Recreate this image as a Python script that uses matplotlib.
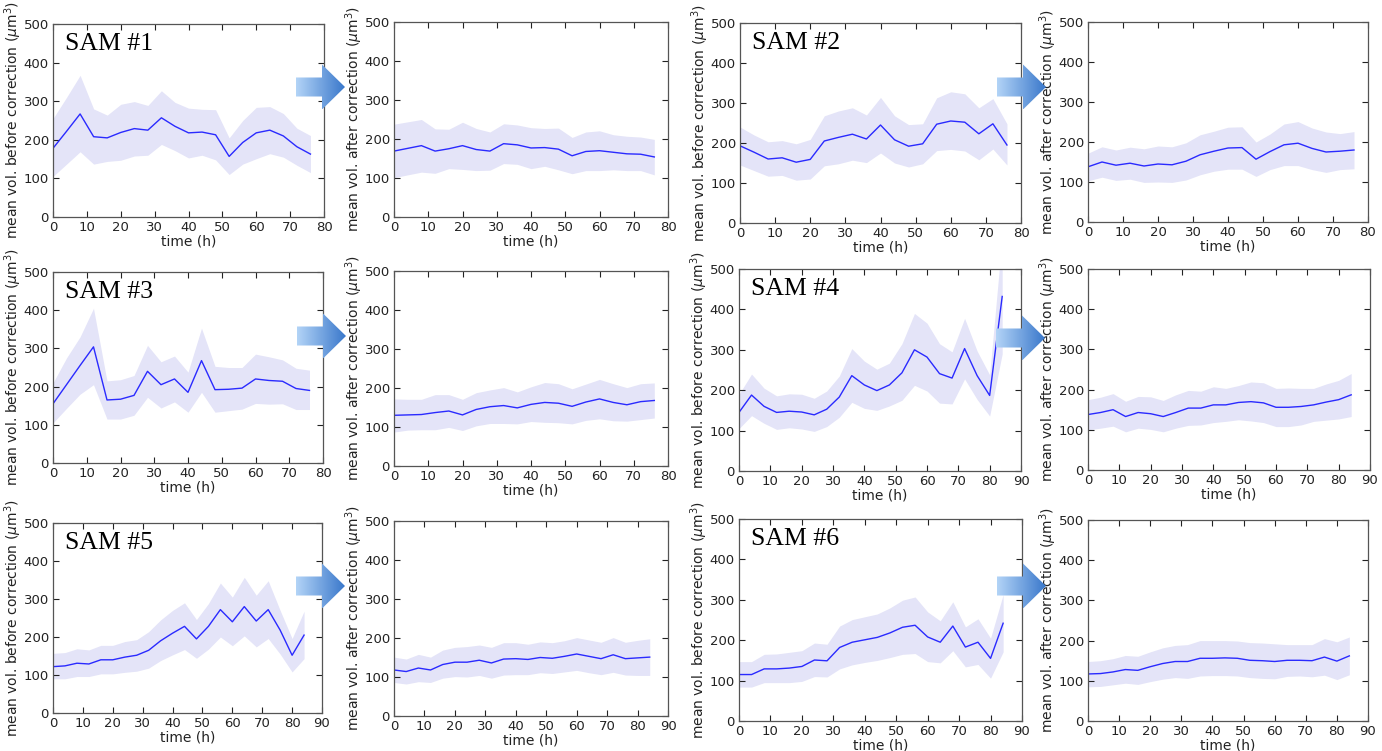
import numpy as np
import matplotlib
matplotlib.use("Agg")
from matplotlib import pyplot as plt
from matplotlib.patches import Polygon

# time points (h), sampled every 4 h
t76 = np.arange(0, 77, 4)
t84 = np.arange(0, 85, 4)

# SAM #1
sam1_bef_mean = [178, 222, 267, 208, 205, 219, 229, 225, 257, 235, 218, 220, 213, 157, 193, 218, 225, 210, 182, 163]
sam1_bef_hi = [255, 310, 367, 280, 264, 292, 299, 289, 327, 297, 282, 279, 278, 205, 250, 284, 286, 268, 230, 211]
sam1_bef_lo = [105, 137, 169, 137, 144, 147, 158, 160, 188, 172, 153, 160, 148, 110, 137, 151, 164, 155, 134, 115]
sam1_aft_mean = [169, 176, 183, 169, 175, 183, 173, 169, 188, 185, 177, 178, 174, 157, 168, 170, 166, 162, 161, 154]
sam1_aft_hi = [238, 244, 250, 226, 225, 243, 227, 218, 239, 236, 229, 227, 228, 204, 218, 221, 211, 207, 205, 199]
sam1_aft_lo = [101, 108, 115, 112, 124, 122, 119, 120, 137, 135, 124, 130, 121, 111, 119, 119, 121, 119, 119, 108]

# SAM #2
sam2_bef_mean = [193, 177, 160, 163, 152, 159, 205, 214, 222, 210, 245, 208, 192, 198, 247, 255, 252, 223, 248, 195]
sam2_bef_hi = [240, 220, 203, 206, 198, 209, 268, 280, 288, 270, 314, 268, 246, 248, 313, 328, 323, 288, 311, 248]
sam2_bef_lo = [145, 131, 117, 119, 107, 110, 143, 148, 157, 151, 175, 150, 140, 148, 181, 184, 180, 158, 185, 145]
sam2_aft_mean = [138, 150, 142, 147, 140, 145, 143, 152, 168, 177, 185, 186, 157, 176, 193, 197, 184, 175, 177, 180]
sam2_aft_hi = [172, 188, 180, 187, 183, 190, 188, 198, 218, 227, 237, 238, 200, 220, 245, 251, 235, 225, 221, 226]
sam2_aft_lo = [103, 112, 104, 107, 99, 100, 99, 105, 118, 127, 132, 132, 114, 131, 141, 141, 131, 124, 131, 133]

# SAM #3
sam3_bef_mean = [155, 205, 255, 304, 165, 167, 177, 240, 205, 220, 185, 268, 192, 193, 196, 220, 216, 214, 195, 190]
sam3_bef_hi = [210, 275, 330, 405, 215, 218, 229, 308, 265, 280, 238, 353, 253, 250, 250, 285, 278, 270, 248, 243]
sam3_bef_lo = [105, 143, 180, 205, 115, 115, 125, 172, 144, 160, 133, 185, 133, 137, 141, 156, 154, 155, 140, 140]
sam3_aft_mean = [130, 131, 132, 137, 141, 131, 145, 152, 155, 149, 158, 163, 161, 153, 164, 172, 163, 157, 165, 168]
sam3_aft_hi = [172, 171, 171, 183, 183, 171, 188, 195, 201, 190, 203, 214, 211, 198, 210, 222, 211, 201, 211, 213]
sam3_aft_lo = [87, 92, 93, 93, 99, 91, 103, 109, 109, 108, 114, 112, 111, 108, 117, 121, 116, 115, 119, 123]

# SAM #4
sam4_bef_mean = [145, 188, 160, 145, 148, 146, 139, 153, 183, 236, 213, 199, 213, 243, 300, 282, 241, 230, 303, 236, 187, 432]
sam4_bef_hi = [190, 240, 205, 186, 191, 190, 180, 198, 235, 303, 272, 252, 267, 315, 390, 366, 315, 295, 378, 297, 238, 580]
sam4_bef_lo = [105, 137, 118, 103, 107, 104, 98, 110, 133, 170, 155, 150, 161, 175, 212, 198, 168, 166, 228, 177, 136, 290]
sam4_aft_mean = [138, 143, 150, 133, 143, 140, 133, 143, 154, 154, 162, 162, 168, 170, 167, 156, 156, 158, 162, 169, 175, 187]
sam4_aft_hi = [175, 181, 190, 171, 183, 182, 173, 187, 198, 196, 207, 203, 210, 219, 217, 203, 204, 203, 203, 214, 223, 240]
sam4_aft_lo = [100, 104, 109, 95, 104, 101, 95, 104, 111, 112, 118, 121, 125, 122, 118, 108, 108, 112, 121, 124, 127, 133]

# SAM #5
sam5_bef_mean = [122, 124, 131, 129, 140, 140, 147, 152, 165, 190, 210, 228, 195, 228, 272, 240, 280, 242, 272, 218, 152, 205]
sam5_bef_hi = [157, 159, 169, 166, 178, 178, 188, 193, 214, 245, 270, 290, 246, 288, 342, 305, 357, 310, 348, 270, 196, 268]
sam5_bef_lo = [90, 90, 96, 96, 103, 103, 107, 110, 118, 138, 153, 167, 144, 168, 200, 177, 203, 174, 196, 155, 108, 143]
sam5_aft_mean = [118, 114, 123, 118, 132, 138, 138, 143, 136, 146, 147, 145, 150, 148, 153, 159, 153, 147, 157, 147, 149, 151]
sam5_aft_hi = [151, 146, 158, 151, 169, 176, 178, 182, 176, 188, 188, 184, 190, 188, 193, 201, 195, 189, 201, 189, 194, 198]
sam5_aft_lo = [86, 82, 88, 86, 97, 101, 100, 104, 97, 105, 106, 106, 111, 109, 113, 117, 111, 106, 112, 105, 104, 104]

# SAM #6
sam6_bef_mean = [115, 115, 129, 129, 131, 135, 151, 149, 182, 195, 201, 207, 218, 232, 237, 208, 195, 235, 183, 195, 155, 242]
sam6_bef_hi = [147, 147, 165, 166, 170, 174, 193, 190, 235, 251, 258, 265, 280, 299, 307, 270, 248, 295, 233, 253, 205, 313]
sam6_bef_lo = [84, 84, 95, 95, 95, 98, 110, 109, 129, 139, 145, 150, 157, 165, 167, 147, 144, 174, 134, 140, 106, 171]
sam6_aft_mean = [117, 118, 122, 128, 126, 135, 143, 148, 148, 156, 156, 157, 156, 151, 150, 148, 151, 151, 150, 159, 149, 162]
sam6_aft_hi = [148, 150, 155, 163, 161, 172, 182, 188, 190, 200, 200, 200, 199, 195, 194, 192, 190, 190, 190, 205, 197, 209]
sam6_aft_lo = [85, 86, 90, 94, 91, 98, 104, 108, 106, 112, 113, 113, 112, 108, 106, 105, 111, 112, 110, 114, 103, 115]

labels = ["SAM #1", "SAM #2", "SAM #3", "SAM #4", "SAM #5", "SAM #6"]

W, H = 1382, 751
fig = plt.figure(figsize=(W / 100, H / 100), dpi=100)


def px_axes(l, t, r, b):
    return fig.add_axes([l / W, 1 - b / H, (r - l) / W, (b - t) / H])


def draw_panel(rect, t, mean, lo, hi, xmax, ylab, name=None):
    ax = px_axes(*rect)
    ax.fill_between(t, lo, hi, color="#e4e4f8", lw=0)
    ax.plot(t, mean, color="#2a2aff", lw=1.0)
    ax.set_xlim(0, xmax)
    ax.set_ylim(0, 500)
    ax.set_xticks(np.arange(0, xmax + 1, 10))
    ax.set_yticks(np.arange(0, 501, 100))
    ax.tick_params(direction="in", top=True, right=True, length=4,
                   labelsize=9.5, colors="#222222", pad=3)
    for s in ax.spines.values():
        s.set_color("#555555")
        s.set_linewidth(0.9)
    ax.set_xlabel("time (h)", fontsize=10, labelpad=0, color="#222222")
    ax.set_ylabel(ylab, fontsize=10, labelpad=0, color="#222222")
    if name:
        ax.annotate(name, xy=(0, 1), xycoords="axes fraction", xytext=(12, -26),
                    textcoords="offset pixels", ha="left", va="baseline",
                    fontsize=18.5, family="Liberation Serif")
    return ax


ybef = r"mean vol. before correction ($\mu\mathrm{m}^3$)"
yaft = r"mean vol. after correction ($\mu\mathrm{m}^3$)"

panels = [
    ((53, 24, 324, 217), t76, sam1_bef_mean, sam1_bef_lo, sam1_bef_hi, 80, ybef, labels[0]),
    ((394, 22, 668, 217), t76, sam1_aft_mean, sam1_aft_lo, sam1_aft_hi, 80, yaft, None),
    ((740, 23, 1021, 223), t76, sam2_bef_mean, sam2_bef_lo, sam2_bef_hi, 80, ybef, labels[1]),
    ((1088, 22, 1368, 222), t76, sam2_aft_mean, sam2_aft_lo, sam2_aft_hi, 80, yaft, None),
    ((53, 272, 323, 463), t76, sam3_bef_mean, sam3_bef_lo, sam3_bef_hi, 80, ybef, labels[2]),
    ((394, 271, 668, 466), t76, sam3_aft_mean, sam3_aft_lo, sam3_aft_hi, 80, yaft, None),
    ((739, 269, 1021, 471), t84, sam4_bef_mean, sam4_bef_lo, sam4_bef_hi, 90, ybef, labels[3]),
    ((1088, 269, 1370, 470), t84, sam4_aft_mean, sam4_aft_lo, sam4_aft_hi, 90, yaft, None),
    ((53, 523, 322, 713), t84, sam5_bef_mean, sam5_bef_lo, sam5_bef_hi, 90, ybef, labels[4]),
    ((394, 521, 668, 716), t84, sam5_aft_mean, sam5_aft_lo, sam5_aft_hi, 90, yaft, None),
    ((739, 519, 1022, 721), t84, sam6_bef_mean, sam6_bef_lo, sam6_bef_hi, 90, ybef, labels[5]),
    ((1088, 520, 1368, 721), t84, sam6_aft_mean, sam6_aft_lo, sam6_aft_hi, 90, yaft, None),
]
for p in panels:
    draw_panel(*p)

# overlay for the gradient arrows between before/after panels
ov = fig.add_axes([0, 0, 1, 1], zorder=10)
ov.axis("off")
ov.patch.set_alpha(0)

grad = np.linspace(0, 1, 256)[None, :]
cmap = matplotlib.colors.LinearSegmentedColormap.from_list("arr", ["#b3d4f7", "#3a78cb"])


def arrow(x0, yc, body=26, head=23, bh=9.5, hh=22.5):
    pts = [(x0, yc - bh), (x0 + body, yc - bh), (x0 + body, yc - hh),
           (x0 + body + head, yc), (x0 + body, yc + hh), (x0 + body, yc + bh),
           (x0, yc + bh)]
    poly = Polygon(pts, closed=True, fc="none", ec="none")
    ov.add_patch(poly)
    im = ov.imshow(grad, cmap=cmap, aspect="auto",
                   extent=(x0, x0 + body + head, yc + hh, yc - hh), zorder=5)
    im.set_clip_path(poly)


for x0, yc in [(296, 87), (997, 87), (297, 336), (996, 338), (296, 586), (997, 586)]:
    arrow(x0, yc)

ov.set_xlim(0, W)
ov.set_ylim(H, 0)

fig.savefig("out.png", dpi=100)
